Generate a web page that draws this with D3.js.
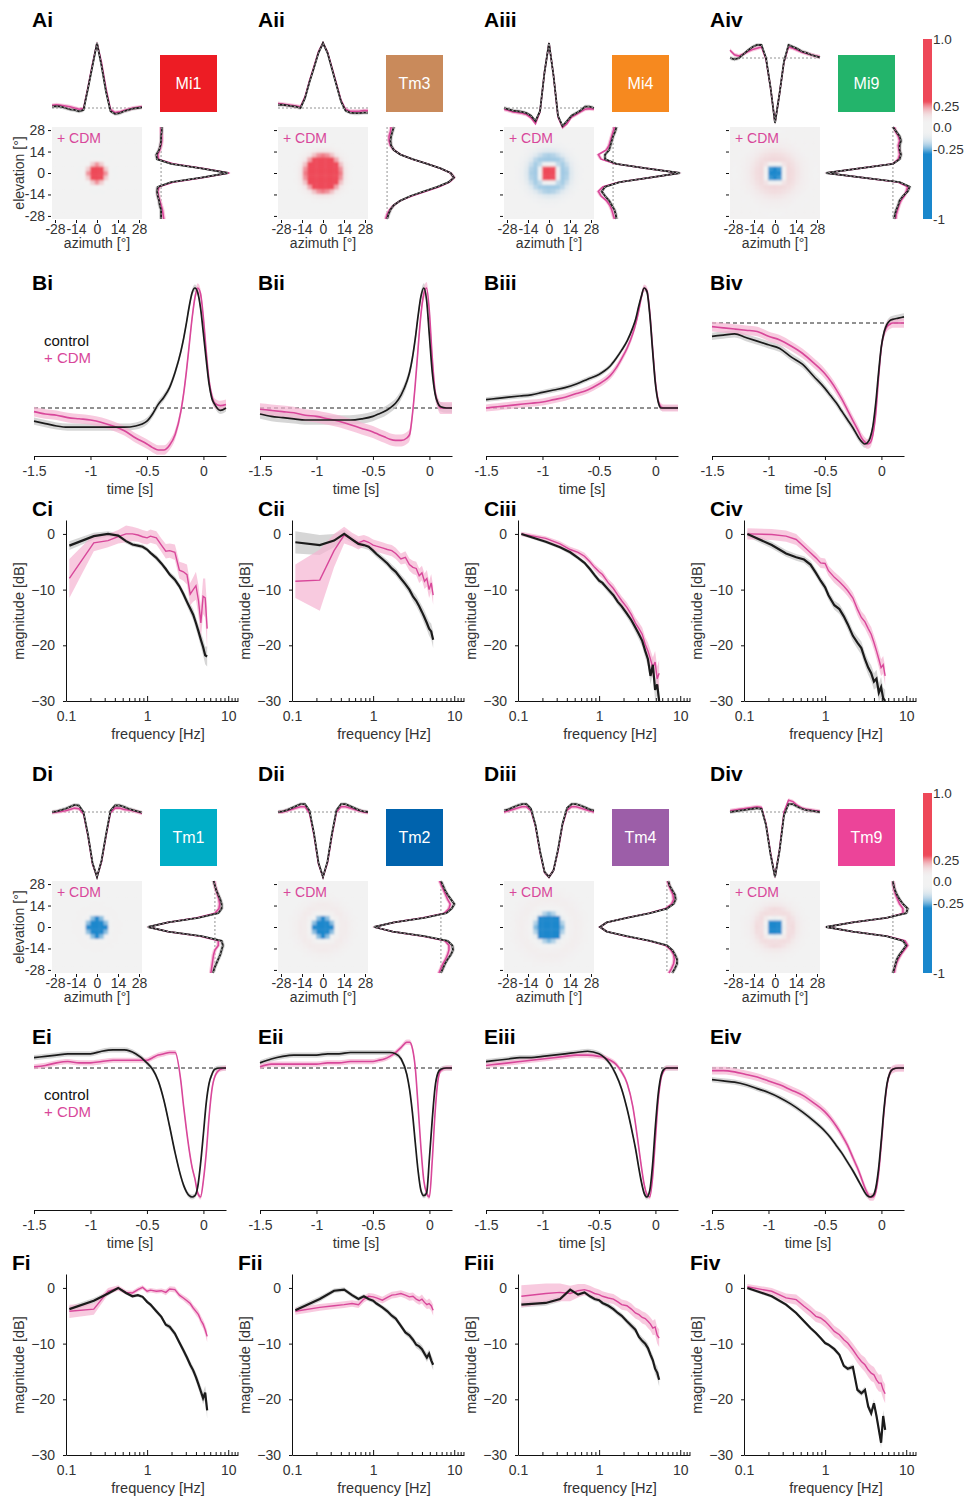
<!DOCTYPE html>
<meta charset="utf-8">
<title>Receptive fields, kernels and gain, control vs + CDM</title>
<style>
    body { margin: 0; background: #fff; }
    svg text { font-family: "Liberation Sans", Arial, sans-serif; }
</style>
<script src="https://d3js.org/d3.v7.min.js"></script>

<svg id="fig" width="967" height="1499"></svg>

<script>
    // ---------- data ----------
    const cellTypes = ["Mi1", "Tm3", "Mi4", "Mi9", "Tm1", "Tm2", "Tm4", "Tm9"];
    const polarity = [1, 1, 1, -1, -1, -1, -1, -1];
    const romans = ["i", "ii", "iii", "iv"];

    // spatial RF profiles (normalised), positions in degrees
    const rfPos = [-30, -27, -24, -21, -18, -15, -12, -9, -6, -3, 0, 3, 6, 9, 12, 15, 18, 21, 24, 27, 30];
    const rfTicks = [-28, -14, 0, 14, 28];
    const rfSem = 0.03;

    const rfHorizCtrl = [
        [0.02, 0.03, 0.02, 0.0, -0.02, -0.03, -0.05, -0.03, 0.3, 0.65, 1.0, 0.65, 0.25, -0.05, -0.09, -0.08, -0.05, -0.03, -0.01, 0.0, 0.01],
        [0.05, 0.05, 0.04, 0.03, 0.02, 0.0, 0.15, 0.4, 0.62, 0.85, 1.0, 0.85, 0.6, 0.35, 0.1, -0.04, -0.07, -0.08, -0.08, -0.07, -0.07],
        [0.0, -0.02, -0.04, -0.05, -0.06, -0.08, -0.12, -0.2, -0.05, 0.55, 1.0, 0.5, -0.12, -0.28, -0.2, -0.12, -0.08, -0.04, 0.02, 0.02, 0.0],
        [0.0, -0.02, 0.0, 0.06, 0.12, 0.17, 0.2, 0.2, 0.0, -0.45, -1.0, -0.55, -0.05, 0.2, 0.17, 0.14, 0.1, 0.08, 0.05, 0.03, 0.01],
        [0.0, 0.01, 0.03, 0.05, 0.08, 0.11, 0.1, 0.0, -0.35, -0.78, -1.0, -0.75, -0.35, 0.02, 0.1, 0.1, 0.08, 0.05, 0.03, 0.01, -0.01],
        [0.0, 0.01, 0.03, 0.06, 0.09, 0.12, 0.12, 0.02, -0.33, -0.78, -1.0, -0.76, -0.33, 0.03, 0.12, 0.12, 0.09, 0.06, 0.03, 0.01, 0.0],
        [0.02, 0.04, 0.07, 0.1, 0.12, 0.12, 0.05, -0.2, -0.6, -0.92, -1.0, -0.9, -0.58, -0.18, 0.06, 0.12, 0.12, 0.1, 0.07, 0.04, 0.02],
        [0.0, 0.01, 0.02, 0.03, 0.04, 0.05, 0.06, 0.05, -0.2, -0.65, -1.0, -0.6, -0.05, 0.12, 0.12, 0.08, 0.05, 0.03, 0.02, 0.01, 0.0]
    ];
    const rfHorizCdm = [
        [0.04, 0.05, 0.04, 0.03, 0.02, 0.0, -0.02, -0.01, 0.32, 0.68, 1.0, 0.7, 0.3, -0.02, -0.07, -0.06, -0.04, -0.02, 0.0, 0.01, 0.02],
        [0.07, 0.06, 0.05, 0.04, 0.03, 0.02, 0.17, 0.42, 0.64, 0.87, 1.0, 0.86, 0.62, 0.37, 0.12, -0.02, -0.05, -0.05, -0.05, -0.04, -0.04],
        [-0.02, -0.04, -0.06, -0.07, -0.08, -0.1, -0.15, -0.24, -0.06, 0.55, 1.0, 0.5, -0.14, -0.3, -0.24, -0.14, -0.1, -0.06, -0.02, -0.01, -0.02],
        [0.12, 0.05, 0.03, 0.06, 0.1, 0.13, 0.15, 0.17, -0.02, -0.45, -1.0, -0.55, -0.06, 0.17, 0.15, 0.12, 0.09, 0.07, 0.05, 0.03, 0.02],
        [-0.01, 0.0, 0.01, 0.02, 0.04, 0.06, 0.05, -0.03, -0.37, -0.8, -1.0, -0.77, -0.37, -0.01, 0.06, 0.06, 0.04, 0.03, 0.02, 0.0, -0.02],
        [0.0, 0.0, 0.02, 0.04, 0.06, 0.08, 0.08, -0.02, -0.36, -0.8, -1.0, -0.78, -0.36, 0.0, 0.08, 0.08, 0.06, 0.04, 0.02, 0.0, -0.01],
        [0.0, 0.02, 0.04, 0.06, 0.08, 0.08, 0.02, -0.22, -0.62, -0.93, -1.0, -0.9, -0.6, -0.2, 0.03, 0.08, 0.08, 0.06, 0.04, 0.02, 0.0],
        [0.02, 0.03, 0.04, 0.05, 0.06, 0.07, 0.08, 0.07, -0.18, -0.62, -1.0, -0.58, 0.0, 0.18, 0.16, 0.1, 0.06, 0.04, 0.03, 0.02, 0.01]
    ];
    // vertical profiles, ordered from elevation -30 to +30
    const rfVertCtrl = [
        [0.0, 0.0, 0.0, -0.02, -0.03, -0.05, -0.06, -0.05, 0.15, 0.6, 1.0, 0.6, 0.15, -0.06, -0.07, -0.03, -0.01, 0.0, 0.0, 0.01, 0.01],
        [0.0, 0.02, 0.05, 0.1, 0.2, 0.35, 0.55, 0.75, 0.92, 1.0, 0.95, 0.8, 0.6, 0.38, 0.2, 0.1, 0.06, 0.05, 0.06, 0.08, 0.1],
        [0.05, 0.04, 0.02, -0.02, -0.06, -0.12, -0.17, -0.12, 0.1, 0.55, 1.0, 0.5, 0.05, -0.12, -0.12, -0.06, -0.04, -0.02, 0.0, 0.03, 0.05],
        [0.02, 0.03, 0.05, 0.08, 0.1, 0.15, 0.22, 0.25, 0.1, -0.45, -1.0, -0.5, 0.0, 0.1, 0.12, 0.1, 0.1, 0.12, 0.1, 0.05, 0.0],
        [-0.03, -0.01, 0.02, 0.05, 0.08, 0.1, 0.12, 0.1, -0.2, -0.7, -1.0, -0.7, -0.25, 0.05, 0.1, 0.1, 0.08, 0.05, 0.02, 0.0, -0.02],
        [0.0, 0.03, 0.06, 0.1, 0.15, 0.18, 0.17, 0.1, -0.25, -0.72, -1.0, -0.7, -0.25, 0.08, 0.16, 0.2, 0.15, 0.1, 0.06, 0.03, 0.0],
        [0.08, 0.12, 0.15, 0.15, 0.12, 0.08, 0.0, -0.25, -0.6, -0.9, -1.0, -0.9, -0.6, -0.25, 0.0, 0.1, 0.13, 0.12, 0.08, 0.04, 0.02],
        [0.0, 0.02, 0.04, 0.06, 0.1, 0.15, 0.2, 0.15, -0.1, -0.6, -1.0, -0.6, -0.1, 0.2, 0.22, 0.15, 0.1, 0.06, 0.03, 0.01, 0.0]
    ];
    const rfVertCdm = [
        [0.04, 0.03, 0.02, 0.0, -0.02, -0.04, -0.05, -0.03, 0.18, 0.62, 1.02, 0.62, 0.18, -0.04, -0.05, -0.02, 0.0, 0.01, 0.01, 0.0, 0.0],
        [-0.02, 0.0, 0.04, 0.1, 0.2, 0.37, 0.57, 0.78, 0.93, 1.0, 0.95, 0.8, 0.6, 0.38, 0.2, 0.1, 0.05, 0.03, 0.03, 0.05, 0.06],
        [0.02, 0.0, -0.02, -0.05, -0.1, -0.18, -0.22, -0.15, 0.08, 0.55, 1.0, 0.5, 0.03, -0.18, -0.22, -0.1, -0.06, -0.04, -0.02, 0.0, 0.02],
        [0.04, 0.05, 0.07, 0.09, 0.12, 0.17, 0.2, 0.22, 0.08, -0.45, -1.0, -0.5, 0.0, 0.08, 0.1, 0.09, 0.08, 0.1, 0.08, 0.04, 0.02],
        [-0.06, -0.05, -0.04, -0.03, -0.02, 0.0, 0.05, 0.05, -0.22, -0.7, -1.0, -0.7, -0.27, 0.0, 0.06, 0.07, 0.06, 0.04, 0.02, 0.0, -0.01],
        [-0.03, 0.0, 0.03, 0.07, 0.1, 0.12, 0.12, 0.06, -0.27, -0.72, -1.0, -0.7, -0.27, 0.05, 0.12, 0.14, 0.1, 0.07, 0.04, 0.01, -0.02],
        [0.03, 0.07, 0.1, 0.11, 0.1, 0.06, -0.02, -0.27, -0.62, -0.9, -1.0, -0.9, -0.6, -0.27, -0.02, 0.07, 0.1, 0.09, 0.06, 0.03, 0.01],
        [0.02, 0.03, 0.05, 0.08, 0.12, 0.17, 0.22, 0.18, -0.08, -0.6, -1.0, -0.6, -0.08, 0.15, 0.15, 0.1, 0.07, 0.04, 0.02, 0.01, 0.0]
    ];

    // temporal kernels (normalised)
    const timePts = [-1.5, -1.4, -1.3, -1.2, -1.1, -1.0, -0.9, -0.8, -0.7, -0.6, -0.5, -0.45, -0.4, -0.35, -0.3, -0.25,
        -0.2, -0.175, -0.15, -0.125, -0.1, -0.075, -0.05, -0.025, 0, 0.025, 0.05, 0.075, 0.1, 0.15, 0.2];
    const timeTicks = [-1.5, -1, -0.5, 0];

    const kernelCtrl = [
        [-0.11, -0.13, -0.15, -0.16, -0.16, -0.16, -0.16, -0.16, -0.16, -0.15, -0.11, -0.05, 0.03, 0.09, 0.17, 0.3,
            0.47, 0.58, 0.71, 0.85, 0.96, 1.0, 0.96, 0.83, 0.62, 0.4, 0.2, 0.08, 0.03, -0.02, 0.0],
        [-0.05, -0.07, -0.08, -0.09, -0.1, -0.1, -0.1, -0.1, -0.1, -0.09, -0.07, -0.05, -0.03, 0.0, 0.04, 0.11,
            0.22, 0.3, 0.42, 0.58, 0.77, 0.93, 1.0, 0.9, 0.6, 0.3, 0.12, 0.04, 0.01, 0.0, 0.0],
        [0.07, 0.08, 0.09, 0.1, 0.11, 0.13, 0.15, 0.17, 0.2, 0.24, 0.28, 0.31, 0.35, 0.41, 0.48, 0.56,
            0.67, 0.74, 0.84, 0.93, 1.0, 0.97, 0.78, 0.48, 0.2, 0.05, 0.0, 0.0, 0.0, 0.0, 0.0],
        [-0.11, -0.1, -0.09, -0.12, -0.15, -0.18, -0.21, -0.28, -0.34, -0.44, -0.54, -0.6, -0.66, -0.73, -0.8, -0.87,
            -0.95, -0.98, -1.0, -0.99, -0.95, -0.85, -0.66, -0.41, -0.19, -0.07, -0.01, 0.02, 0.03, 0.04, 0.05],
        [0.08, 0.09, 0.1, 0.11, 0.11, 0.11, 0.13, 0.14, 0.14, 0.11, 0.04, -0.01, -0.1, -0.25, -0.45, -0.66,
            -0.84, -0.91, -0.96, -0.99, -1.0, -0.99, -0.92, -0.74, -0.51, -0.27, -0.12, -0.05, -0.01, 0.0, 0.0],
        [0.04, 0.07, 0.09, 0.1, 0.1, 0.1, 0.11, 0.11, 0.12, 0.12, 0.12, 0.12, 0.12, 0.12, 0.11, 0.07,
            -0.05, -0.17, -0.35, -0.58, -0.8, -0.95, -0.99, -0.97, -0.7, -0.4, -0.15, -0.04, -0.01, 0.0, 0.0],
        [0.05, 0.06, 0.07, 0.08, 0.08, 0.09, 0.1, 0.11, 0.12, 0.13, 0.11, 0.08, 0.03, -0.05, -0.16, -0.32,
            -0.52, -0.63, -0.76, -0.88, -0.97, -1.0, -0.95, -0.75, -0.45, -0.2, -0.06, -0.01, 0.0, 0.0, 0.0],
        [-0.09, -0.1, -0.11, -0.13, -0.16, -0.19, -0.23, -0.28, -0.34, -0.41, -0.49, -0.54, -0.6, -0.66, -0.73, -0.8,
            -0.88, -0.92, -0.96, -0.99, -1.0, -0.99, -0.93, -0.78, -0.55, -0.3, -0.12, -0.04, -0.01, 0.0, 0.0]
    ];
    const kernelCdm = [
        [-0.03, -0.05, -0.06, -0.08, -0.09, -0.1, -0.12, -0.15, -0.19, -0.25, -0.3, -0.33, -0.35, -0.35, -0.31, -0.22,
            -0.03, 0.12, 0.31, 0.53, 0.75, 0.92, 1.0, 0.95, 0.75, 0.47, 0.23, 0.1, 0.04, 0.02, 0.03],
        [-0.01, -0.02, -0.03, -0.04, -0.06, -0.07, -0.09, -0.11, -0.14, -0.17, -0.2, -0.22, -0.24, -0.26, -0.27, -0.27,
            -0.25, -0.22, -0.05, 0.2, 0.5, 0.78, 0.95, 1.0, 0.8, 0.42, 0.14, 0.04, 0.0, 0.0, 0.0],
        [0.0, 0.01, 0.02, 0.03, 0.04, 0.05, 0.07, 0.09, 0.12, 0.15, 0.2, 0.23, 0.27, 0.33, 0.41, 0.5,
            0.62, 0.7, 0.8, 0.92, 1.0, 0.98, 0.8, 0.5, 0.22, 0.06, 0.01, 0.0, 0.0, 0.0, 0.0],
        [-0.03, -0.04, -0.05, -0.06, -0.07, -0.11, -0.14, -0.19, -0.25, -0.33, -0.42, -0.48, -0.55, -0.63, -0.72, -0.81,
            -0.9, -0.95, -0.98, -1.0, -0.99, -0.92, -0.75, -0.45, -0.2, -0.08, -0.03, -0.01, 0.0, 0.0, 0.0],
        [0.01, 0.02, 0.04, 0.05, 0.04, 0.04, 0.05, 0.06, 0.06, 0.06, 0.06, 0.08, 0.1, 0.11, 0.12, 0.12,
            -0.1, -0.3, -0.48, -0.64, -0.77, -0.86, -0.97, -1.0, -0.87, -0.66, -0.38, -0.17, -0.07, -0.01, 0.0],
        [0.01, 0.03, 0.03, 0.03, 0.03, 0.03, 0.04, 0.04, 0.05, 0.05, 0.05, 0.06, 0.07, 0.09, 0.12, 0.16,
            0.2, 0.2, 0.15, 0.0, -0.3, -0.62, -0.87, -0.97, -1.0, -0.72, -0.35, -0.1, -0.02, 0.0, 0.0],
        [0.02, 0.03, 0.04, 0.05, 0.06, 0.07, 0.08, 0.09, 0.1, 0.1, 0.09, 0.08, 0.06, 0.03, -0.03, -0.12,
            -0.3, -0.44, -0.6, -0.76, -0.9, -0.98, -1.0, -0.85, -0.55, -0.25, -0.08, -0.02, 0.0, 0.0, 0.0],
        [-0.02, -0.02, -0.03, -0.05, -0.07, -0.1, -0.13, -0.17, -0.21, -0.27, -0.34, -0.39, -0.45, -0.52, -0.6, -0.7,
            -0.8, -0.86, -0.92, -0.97, -1.0, -1.0, -0.96, -0.82, -0.58, -0.32, -0.13, -0.04, -0.01, 0.0, 0.0]
    ];
    const kernelSemCtrl = [0.03, 0.04, 0.02, 0.03, 0.02, 0.02, 0.02, 0.02];
    const kernelSemCdm = [0.04, 0.05, 0.03, 0.04, 0.02, 0.02, 0.02, 0.03];

    // gain (magnitude, dB)
    const freqPts = [0.11, 0.22, 0.33, 0.44, 0.55, 0.66, 0.77, 0.88, 1.0, 1.1, 1.3, 1.5, 1.7, 1.9, 2.2, 2.5, 2.8,
        3.1, 3.4, 3.7, 4.0, 4.3, 4.6, 4.9, 5.2, 5.5];
    const freqTicks = [0.1, 1, 10];
    const freqMinor = [0.2, 0.3, 0.4, 0.5, 0.6, 0.7, 0.8, 0.9, 2, 3, 4, 5, 6, 7, 8, 9, 11, 12, 13];
    const dbTicks = [0, -10, -20, -30];

    const gainCtrl = [
        [-2.1, -0.4, 0, -0.3, -1.3, -1.9, -2.1, -2.3, -2.8, -3.4, -4.3, -5.3, -6.3, -7.3, -8.2, -9.4, -10.8, -12.2, -13.4, -14.5, -16.0, -17.5, -19.0, -20.3, -21.8, -22.0],
        [-1.5, -2.0, -1.2, 0, -1.0, -1.8, -2.0, -2.3, -3.0, -3.6, -4.5, -5.3, -6.2, -6.8, -8.0, -9.0, -10.0, -11.2, -12.0, -13.0, -14.0, -15.0, -16.0, -17.0, -17.5, -19.0],
        [0, -1.4, -2.4, -3.3, -4.3, -5.2, -6.3, -7.4, -8.4, -8.8, -10.0, -11.0, -12.2, -13.0, -14.3, -15.5, -16.8, -18.0, -19.2, -21.0, -22.5, -25.5, -23.5, -28.0, -27.0, -30.0],
        [0, -2.0, -3.5, -4.2, -4.6, -5.5, -7.0, -8.4, -9.6, -11.0, -12.8, -13.5, -14.8, -16.2, -18.3, -19.5, -20.5, -22.5, -24.0, -25.0, -26.5, -26.0, -28.5, -27.5, -29.5, -30.0],
        [-3.8, -2.3, -1.0, 0, -0.9, -1.5, -1.3, -1.6, -2.5, -3.0, -4.2, -5.2, -6.6, -7.0, -8.2, -9.8, -11.2, -12.5, -13.8, -14.8, -16.0, -17.3, -18.6, -19.8, -18.8, -22.0],
        [-4.0, -2.0, -0.5, -0.3, -1.3, -2.0, -1.5, -2.0, -2.3, -2.8, -3.5, -4.2, -5.0, -5.5, -6.8, -8.0, -8.5, -9.3, -10.2, -10.5, -11.0, -11.8, -12.5, -11.8, -13.0, -13.8],
        [-3.0, -2.7, -2.0, -0.3, -1.2, -0.8, -1.5, -2.0, -2.2, -2.7, -3.2, -3.8, -4.5, -5.0, -6.0, -6.8, -7.5, -8.8, -9.5, -10.0, -10.8, -12.0, -13.0, -14.5, -15.2, -16.5],
        [0, -1.5, -3.0, -4.5, -6.0, -7.2, -8.1, -9.0, -9.9, -10.2, -11.0, -12.0, -14.0, -14.5, -14.2, -18.3, -18.9, -18.3, -21.3, -22.5, -20.7, -23.0, -25.5, -27.8, -23.0, -25.5]
    ];
    const gainCdm = [
        [-8.0, -1.6, -1.2, -0.5, 0, 0, -0.2, -0.5, -0.7, -0.4, -0.7, -2.0, -3.1, -3.0, -3.3, -6.5, -6.8, -7.3, -10.8, -10.0, -9.3, -12.0, -16.0, -11.2, -11.5, -17.0],
        [-8.5, -8.3, -3.0, -0.2, -1.0, -1.6, -1.2, -1.5, -2.0, -2.2, -2.5, -2.8, -3.0, -3.5, -4.5, -4.2, -5.5, -6.0, -6.2, -7.5, -7.0, -8.5, -8.0, -10.0, -8.8, -11.0],
        [0, -0.8, -1.8, -2.8, -3.3, -4.0, -5.0, -6.0, -6.8, -7.3, -8.8, -9.8, -11.0, -12.0, -13.2, -14.5, -16.0, -17.0, -18.0, -19.8, -21.0, -22.5, -24.0, -23.0, -26.0, -25.0],
        [0, -0.1, -0.4, -1.0, -2.3, -3.4, -4.3, -5.2, -5.3, -6.6, -7.8, -8.6, -9.4, -10.2, -11.5, -13.5, -15.0, -15.8, -17.0, -18.0, -19.5, -21.0, -22.5, -24.0, -23.5, -25.5],
        [-4.2, -3.8, -0.6, 0, -0.8, -0.9, -0.3, 0.1, -0.6, -0.4, -0.6, -0.5, -0.8, -0.2, -0.3, -1.3, -1.8, -2.3, -2.8, -3.6, -4.2, -4.8, -5.8, -6.5, -7.5, -8.7],
        [-4.2, -3.5, -3.2, -3.0, -2.8, -3.0, -2.0, -1.5, -1.6, -1.8, -2.2, -1.7, -1.3, -1.2, -1.0, -1.3, -1.6, -1.5, -2.0, -2.3, -2.0, -2.6, -3.0, -2.8, -3.2, -4.0],
        [-1.5, -1.0, -0.8, -1.0, -0.5, -0.3, -0.6, -1.0, -1.2, -1.5, -1.8, -2.0, -2.5, -3.0, -3.2, -3.8, -4.5, -4.8, -5.3, -5.5, -6.0, -6.5, -7.2, -7.0, -8.5, -9.0],
        [0.2, -0.6, -1.8, -2.1, -3.3, -4.2, -5.1, -5.4, -6.0, -6.6, -7.8, -8.4, -9.3, -9.9, -11.1, -12.3, -13.2, -13.8, -14.7, -15.3, -15.6, -16.5, -17.1, -17.1, -18.3, -19.0]
    ];
    const gainSemCtrl = [
        [0.8, 0.6, 0.5, 0.4, 0.4, 0.4, 0.4, 0.4, 0.4, 0.4, 0.5, 0.5, 0.5, 0.5, 0.6, 0.6, 0.7, 0.8, 0.9, 1.0, 1.1, 1.2, 1.3, 1.5, 1.6, 1.8],
        [2.0, 1.8, 1.2, 0.8, 0.6, 0.6, 0.6, 0.6, 0.6, 0.6, 0.6, 0.6, 0.7, 0.7, 0.7, 0.8, 0.8, 0.9, 1.0, 1.0, 1.1, 1.2, 1.2, 1.3, 1.4, 1.5],
        [0.3, 0.3, 0.3, 0.4, 0.4, 0.4, 0.5, 0.5, 0.5, 0.5, 0.6, 0.6, 0.6, 0.7, 0.7, 0.8, 0.9, 1.0, 1.1, 1.2, 1.3, 1.5, 1.6, 1.8, 2.0, 2.2],
        [0.5, 0.6, 0.6, 0.6, 0.6, 0.7, 0.7, 0.7, 0.8, 0.8, 0.8, 0.9, 0.9, 1.0, 1.0, 1.1, 1.2, 1.2, 1.3, 1.4, 1.5, 1.6, 1.7, 1.8, 1.9, 2.0],
        [0.5, 0.5, 0.4, 0.3, 0.3, 0.3, 0.3, 0.3, 0.3, 0.4, 0.4, 0.4, 0.4, 0.5, 0.5, 0.5, 0.6, 0.6, 0.7, 0.7, 0.8, 0.9, 1.0, 1.1, 1.2, 1.5],
        [0.5, 0.5, 0.4, 0.4, 0.4, 0.4, 0.4, 0.4, 0.4, 0.4, 0.4, 0.5, 0.5, 0.5, 0.5, 0.5, 0.6, 0.6, 0.6, 0.7, 0.7, 0.7, 0.8, 0.8, 0.9, 1.0],
        [0.5, 0.5, 0.5, 0.4, 0.4, 0.4, 0.4, 0.4, 0.4, 0.4, 0.5, 0.5, 0.5, 0.5, 0.5, 0.6, 0.6, 0.6, 0.7, 0.7, 0.8, 0.8, 0.9, 1.0, 1.1, 1.2],
        [0.3, 0.3, 0.3, 0.3, 0.3, 0.3, 0.3, 0.3, 0.3, 0.3, 0.4, 0.4, 0.4, 0.4, 0.5, 0.5, 0.5, 0.6, 0.6, 0.7, 0.7, 0.8, 0.9, 1.0, 1.1, 1.2]
    ];
    const gainSemCdm = [
        [3.5, 1.5, 1.2, 1.2, 1.5, 1.3, 1.2, 1.2, 1.2, 1.2, 1.2, 1.2, 1.3, 1.3, 1.4, 1.5, 1.6, 1.8, 2.0, 2.2, 2.5, 2.8, 3.0, 3.2, 3.5, 3.8],
        [3.0, 5.5, 3.0, 1.5, 1.2, 1.2, 1.0, 1.0, 1.0, 1.0, 1.0, 1.0, 1.0, 1.0, 1.0, 1.1, 1.1, 1.2, 1.2, 1.3, 1.3, 1.4, 1.5, 1.5, 1.6, 1.7],
        [0.4, 0.4, 0.5, 0.5, 0.5, 0.6, 0.6, 0.6, 0.7, 0.7, 0.7, 0.8, 0.8, 0.8, 0.9, 0.9, 1.0, 1.1, 1.2, 1.3, 1.5, 1.6, 1.8, 2.0, 2.2, 2.4],
        [1.0, 1.0, 1.0, 1.0, 0.9, 0.9, 0.9, 0.9, 0.9, 0.9, 1.0, 1.0, 1.0, 1.0, 1.0, 1.1, 1.1, 1.2, 1.2, 1.3, 1.3, 1.4, 1.5, 1.5, 1.6, 1.7],
        [1.2, 1.0, 0.6, 0.5, 0.4, 0.4, 0.4, 0.4, 0.4, 0.4, 0.4, 0.4, 0.5, 0.5, 0.5, 0.5, 0.5, 0.6, 0.6, 0.6, 0.7, 0.7, 0.8, 0.8, 0.9, 1.0],
        [0.6, 0.6, 0.6, 0.6, 0.6, 0.6, 0.6, 0.6, 0.6, 0.6, 0.6, 0.6, 0.6, 0.6, 0.6, 0.6, 0.7, 0.7, 0.7, 0.7, 0.8, 0.8, 0.8, 0.9, 0.9, 1.0],
        [2.0, 1.8, 1.6, 1.4, 1.2, 1.0, 1.0, 1.0, 0.9, 0.9, 0.9, 0.9, 0.9, 0.9, 0.9, 1.0, 1.0, 1.0, 1.1, 1.1, 1.2, 1.2, 1.3, 1.4, 1.5, 1.6],
        [0.5, 0.6, 0.8, 0.9, 1.0, 1.0, 1.0, 1.0, 1.0, 1.0, 1.0, 1.0, 1.1, 1.1, 1.1, 1.2, 1.2, 1.3, 1.3, 1.4, 1.4, 1.5, 1.5, 1.6, 1.6, 1.7]
    ];

    const cbTicks = [1, 0.25, 0, -0.25, -1];
    const cbLabels = ["1.0", "0.25", "0.0", "-0.25", "-1"];

    // ---------- style ----------
    const cellColors = ["#ed1c24", "#c98a5b", "#f6891f", "#23b46b", "#00aec7", "#0063ad", "#9c5ea8", "#ec4499"];
    const PINK = "#d8479a", BLACK = "#1b1b1b", TXT = "#333";
    const BAND_GREY = "#c4c4c4", BAND_PINK = "#f5b3d2";
    const RED = d3.rgb(238, 72, 88), BLUE = d3.rgb(26, 135, 204), NEUTRAL = d3.rgb(242, 242, 242);
    const COL_W = 226, BLOCK_H = 754;
    const TICK_FS = 14, LABEL_FS = 14.5;

    const svg = d3.select("#fig");
    const defs = svg.append("defs");
    defs.append("filter").attr("id", "blur")
        .attr("x", "-5%").attr("y", "-5%").attr("width", "110%").attr("height", "110%")
        .append("feGaussianBlur").attr("stdDeviation", 1.0);

    function rfColor(v) {
        const t = Math.min(1, Math.abs(v) / 0.3);
        return d3.interpolateRgb(NEUTRAL, v > 0 ? RED : BLUE)(t * t * t);
    }

    function styleAxis(g, size) {
        g.attr("font-family", "Liberation Sans, Arial, sans-serif").attr("font-size", size);
        g.selectAll("text").attr("fill", TXT);
        g.selectAll("line,path").attr("stroke", "#111").attr("stroke-width", 1);
    }

    function addText(x, y, txt, opts = {}) {
        return svg.append("text").attr("x", x).attr("y", y).text(txt)
            .attr("font-size", opts.size || LABEL_FS)
            .attr("font-weight", opts.weight || "normal")
            .attr("fill", opts.fill || TXT)
            .attr("text-anchor", opts.anchor || "start")
            .attr("transform", opts.rotate ? `rotate(-90,${x},${y})` : null);
    }

    // ---------- A / D : spatial receptive fields ----------
    function drawRF(k) {
        const col = k % 4, block = k < 4 ? 0 : 1;
        const ox = col * COL_W, oy = block * BLOCK_H;
        const on = polarity[k] > 0;
        const xA = d3.scaleLinear([-30, 30], [ox + 52, ox + 142]);
        const yE = d3.scaleLinear([-30, 30], [oy + 219, oy + 127]);
        const yT = on ? d3.scaleLinear([-0.3, 1], [oy + 127.5, oy + 43]) : d3.scaleLinear([-1, 0.3], [oy + 123, oy + 38.5]);
        const xV = on ? d3.scaleLinear([-0.3, 1], [ox + 141, ox + 228]) : d3.scaleLinear([-1, 0.3], [ox + 148, ox + 235]);

        // heat map of the + CDM receptive field, from the radial average of its profiles
        const clipId = "rfclip" + k;
        defs.append("clipPath").attr("id", clipId).append("rect")
            .attr("x", xA(-30)).attr("y", yE(30)).attr("width", xA(30) - xA(-30)).attr("height", yE(-30) - yE(30));
        const hm = svg.append("g").attr("clip-path", `url(#${clipId})`);
        hm.append("rect").attr("x", xA(-30)).attr("y", yE(30))
            .attr("width", xA(30) - xA(-30)).attr("height", yE(-30) - yE(30)).attr("fill", NEUTRAL);
        const hS = d3.scaleLinear().domain(rfPos).range(rfHorizCdm[k]).clamp(true);
        const vS = d3.scaleLinear().domain(rfPos).range(rfVertCdm[k]).clamp(true);
        const cells = [];
        rfPos.forEach(a => rfPos.forEach(e => {
            const r = Math.hypot(a, e);
            cells.push({a, e, v: (hS(r) + hS(-r) + vS(r) + vS(-r)) / 4});
        }));
        const cw = xA(3) - xA(0), ch = yE(0) - yE(3);
        hm.append("g").attr("filter", "url(#blur)")
            .selectAll("rect").data(cells).join("rect")
            .attr("x", d => xA(d.a) - cw / 2).attr("y", d => yE(d.e) - ch / 2)
            .attr("width", cw + 0.4).attr("height", ch + 0.4)
            .attr("fill", d => rfColor(d.v));
        addText(ox + 57, oy + 143, "+ CDM", {fill: PINK, size: 14});

        // axes of heat map
        const ga = svg.append("g").attr("transform", `translate(${ox + 51},0)`)
            .call(d3.axisLeft(yE).tickValues(rfTicks).tickSize(3).tickPadding(3)
                .tickFormat(d => col === 0 ? String(d) : ""));
        ga.select(".domain").remove();
        styleAxis(ga, TICK_FS);
        const gb = svg.append("g").attr("transform", `translate(0,${oy + 220})`)
            .call(d3.axisBottom(xA).tickValues(rfTicks).tickSize(3).tickPadding(1).tickFormat(d => String(d)));
        gb.select(".domain").remove();
        styleAxis(gb, TICK_FS);
        addText(ox + 97, oy + 248, "azimuth [°]", {anchor: "middle", size: 14});
        if (col === 0) addText(19, oy + 173, "elevation [°]", {anchor: "middle", size: 14, rotate: true}).attr("dy", "0.35em");

        // horizontal profile (top)
        svg.append("line").attr("x1", xA(-30)).attr("x2", xA(30)).attr("y1", yT(0)).attr("y2", yT(0))
            .attr("stroke", "#777").attr("stroke-width", 0.8).attr("stroke-dasharray", "2,2");
        const hBand = d3.area().x((d, i) => xA(rfPos[i])).y0(d => yT(d - rfSem)).y1(d => yT(d + rfSem));
        const hLine = d3.line().x((d, i) => xA(rfPos[i])).y(d => yT(d));
        // vertical profile (right)
        svg.append("line").attr("x1", xV(0)).attr("x2", xV(0)).attr("y1", yE(30)).attr("y2", yE(-30))
            .attr("stroke", "#777").attr("stroke-width", 0.8).attr("stroke-dasharray", "2,2");
        const vBand = d3.area().y((d, i) => yE(rfPos[i])).x0(d => xV(d - rfSem)).x1(d => xV(d + rfSem));
        const vLine = d3.line().y((d, i) => yE(rfPos[i])).x(d => xV(d));

        [[rfHorizCtrl[k], rfHorizCdm[k], hBand, hLine], [rfVertCtrl[k], rfVertCdm[k], vBand, vLine]]
            .forEach(([ctrl, cdm, band, line]) => {
                svg.append("path").attr("d", band(ctrl)).attr("fill", BAND_GREY).attr("opacity", 0.7);
                svg.append("path").attr("d", band(cdm)).attr("fill", BAND_PINK).attr("opacity", 0.7);
                svg.append("path").attr("d", line(cdm)).attr("fill", "none").attr("stroke", PINK).attr("stroke-width", 1.6);
                svg.append("path").attr("d", line(ctrl)).attr("fill", "none").attr("stroke", BLACK).attr("stroke-width", 1.8);
                svg.append("path").attr("d", line(ctrl)).attr("fill", "none").attr("stroke", "#bdbdbd")
                    .attr("stroke-width", 0.8).attr("stroke-dasharray", "2,2");
            });

        // cell type box
        svg.append("rect").attr("x", ox + 160).attr("y", oy + 55).attr("width", 57).attr("height", 57)
            .attr("fill", cellColors[k]);
        addText(ox + 188.5, oy + 89, cellTypes[k], {anchor: "middle", fill: "#fff", size: 16});
    }

    // ---------- B / E : temporal kernels ----------
    function drawKernel(k) {
        const col = k % 4, block = k < 4 ? 0 : 1;
        const ox = col * COL_W, oy = block * BLOCK_H;
        const on = polarity[k] > 0;
        const x = d3.scaleLinear([-1.5, 0.2], [ox + 34, ox + 226]);
        let zero, ppu;
        if (block === 0) { zero = on ? 408 : 323; ppu = on ? 120 : 121; }
        else { zero = oy + 314; ppu = 129; }
        const y = d3.scaleLinear([0, 1], [zero, zero - ppu]);

        svg.append("line").attr("x1", x(-1.5)).attr("x2", x(0.2)).attr("y1", y(0)).attr("y2", y(0))
            .attr("stroke", "#222").attr("stroke-width", 1).attr("stroke-dasharray", "4,3");
        const band = sem => d3.area().curve(d3.curveMonotoneX).x((d, i) => x(timePts[i]))
            .y0(d => y(d - sem)).y1(d => y(d + sem));
        const line = d3.line().curve(d3.curveMonotoneX).x((d, i) => x(timePts[i])).y(d => y(d));
        svg.append("path").attr("d", band(kernelSemCtrl[k])(kernelCtrl[k])).attr("fill", BAND_GREY).attr("opacity", 0.7);
        svg.append("path").attr("d", band(kernelSemCdm[k])(kernelCdm[k])).attr("fill", BAND_PINK).attr("opacity", 0.7);
        svg.append("path").attr("d", line(kernelCdm[k])).attr("fill", "none").attr("stroke", PINK).attr("stroke-width", 1.6);
        svg.append("path").attr("d", line(kernelCtrl[k])).attr("fill", "none").attr("stroke", BLACK).attr("stroke-width", 1.7);

        const ax = svg.append("g").attr("transform", `translate(0,${oy + 456})`)
            .call(d3.axisBottom(x).tickValues(timeTicks).tickSize(4).tickSizeOuter(0).tickPadding(6)
                .tickFormat(d => String(d)));
        styleAxis(ax, TICK_FS);
        addText(x(-0.65), oy + 494, "time [s]", {anchor: "middle"});

        if (col === 0) {
            addText(ox + 44, oy + 346, "control", {fill: "#111", size: 15});
            addText(ox + 44, oy + 363, "+ CDM", {fill: PINK, size: 15});
        }
    }

    // ---------- C / F : gain ----------
    function drawGain(k) {
        const col = k % 4, block = k < 4 ? 0 : 1;
        const ox = col * COL_W, oy = block * BLOCK_H;
        const x = d3.scaleLog([0.1, 13.2], [ox + 66, ox + 238]);
        const y = d3.scaleLinear([-30, 2.5], [oy + 701, oy + 520]);

        const clipId = "gclip" + k;
        defs.append("clipPath").attr("id", clipId).append("rect")
            .attr("x", ox + 66).attr("y", oy + 510).attr("width", 175).attr("height", 191);
        const g = svg.append("g").attr("clip-path", `url(#${clipId})`);
        const band = sem => d3.area().x((d, i) => x(freqPts[i]))
            .y0((d, i) => y(d - sem[i])).y1((d, i) => y(d + sem[i]));
        const line = d3.line().x((d, i) => x(freqPts[i])).y(d => y(d));
        g.append("path").attr("d", band(gainSemCtrl[k])(gainCtrl[k])).attr("fill", BAND_GREY).attr("opacity", 0.7);
        g.append("path").attr("d", band(gainSemCdm[k])(gainCdm[k])).attr("fill", BAND_PINK).attr("opacity", 0.7);
        g.append("path").attr("d", line(gainCdm[k])).attr("fill", "none").attr("stroke", PINK).attr("stroke-width", 1.4);
        g.append("path").attr("d", line(gainCtrl[k])).attr("fill", "none").attr("stroke", BLACK).attr("stroke-width", 2.2);

        const ax = svg.append("g").attr("transform", `translate(0,${oy + 701})`)
            .call(d3.axisBottom(x).tickValues(freqTicks).tickSize(-5).tickSizeOuter(0).tickPadding(10)
                .tickFormat(d => String(d)));
        styleAxis(ax, TICK_FS);
        const axm = svg.append("g").attr("transform", `translate(0,${oy + 701})`)
            .call(d3.axisBottom(x).tickValues(freqMinor).tickSize(-3).tickFormat(""));
        axm.select(".domain").remove();
        styleAxis(axm, TICK_FS);
        const ay = svg.append("g").attr("transform", `translate(${ox + 66},0)`)
            .call(d3.axisLeft(y).tickValues(dbTicks).tickSize(3).tickSizeOuter(0).tickPadding(8)
                .tickFormat(d => d === 0 ? "0" : "\u2212" + Math.abs(d)));
        styleAxis(ay, TICK_FS);
        addText(ox + 158, oy + 739, "frequency [Hz]", {anchor: "middle"});
        addText(ox + 19, oy + 611, "magnitude [dB]", {anchor: "middle", rotate: true}).attr("dy", "0.35em");
    }

    // ---------- colour bar ----------
    const cbGrad = defs.append("linearGradient").attr("id", "cbgrad")
        .attr("x1", 0).attr("y1", 0).attr("x2", 0).attr("y2", 1);
    const cbScale = d3.scaleLinear().domain([-1, -0.25, 0, 0.25, 1]).range([219, 149, 127, 106, 39]);
    d3.range(0, 1.0001, 0.01).forEach(f => {
        const v = cbScale.invert(39 + f * (219 - 39));
        cbGrad.append("stop").attr("offset", f).attr("stop-color", rfColor(v));
    });
    function drawColorbar(block) {
        const oy = block * BLOCK_H;
        svg.append("rect").attr("x", 923).attr("y", oy + cbScale(1)).attr("width", 9)
            .attr("height", cbScale(-1) - cbScale(1)).attr("fill", "url(#cbgrad)");
        const s = d3.scaleLinear().domain(cbScale.domain()).range(cbScale.range().map(r => r + oy));
        const ax = svg.append("g").attr("transform", "translate(932,0)")
            .call(d3.axisRight(s).tickValues(cbTicks).tickSize(0).tickPadding(1)
                .tickFormat((d, i) => cbLabels[i]));
        ax.select(".domain").remove();
        styleAxis(ax, 13.5);
    }

    // ---------- assemble ----------
    cellTypes.forEach((c, k) => {
        drawRF(k);
        drawKernel(k);
        drawGain(k);
    });
    drawColorbar(0);
    drawColorbar(1);

    // panel letters
    const rowLetters = [["A", "B", "C"], ["D", "E", "F"]];
    const letterY = [27, 290, 516];
    [0, 1].forEach(block => {
        rowLetters[block].forEach((L, r) => {
            romans.forEach((rn, col) => {
                const lx = (L === "F" ? 12 : 32) + col * COL_W;
                addText(lx, letterY[r] + block * BLOCK_H, L + rn, {weight: "bold", size: 21, fill: "#000"});
            });
        });
    });
</script>
